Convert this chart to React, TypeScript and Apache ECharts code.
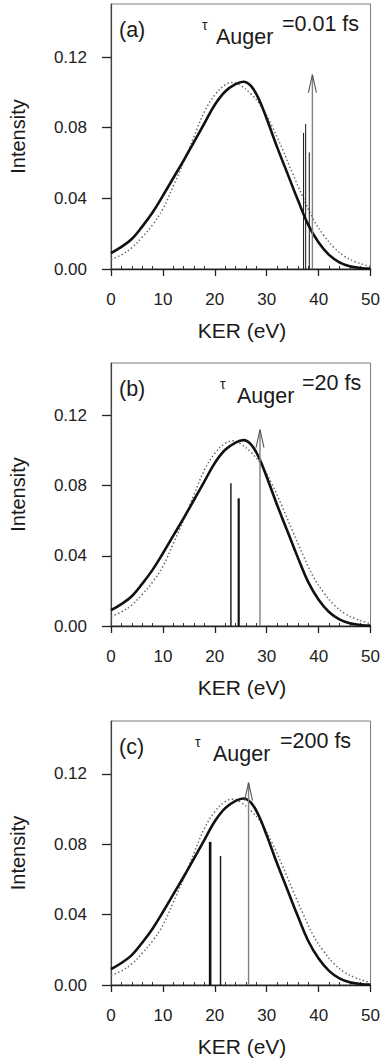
import React, { useEffect, useRef } from "react";
import * as echarts from "echarts";

// ---- data ----
const solidX = [0, 2, 4, 6, 8, 10, 12, 14, 16, 18, 20, 22, 24, 25.5, 27, 28.5, 30, 32, 34, 36, 38, 40, 42, 44, 46, 48, 50];
const solidY = [0.009, 0.0125, 0.017, 0.024, 0.032, 0.0415, 0.0515, 0.0615, 0.072, 0.0825, 0.093, 0.1005, 0.1046, 0.106, 0.1035, 0.096, 0.085, 0.069, 0.054, 0.039, 0.025, 0.015, 0.008, 0.0038, 0.0016, 0.0006, 0.0002];

const dottedX = [0, 2, 4, 6, 8, 10, 12, 14, 16, 18, 20, 22, 23.5, 25, 27, 29, 31, 33, 35, 37, 39, 41, 43, 45, 47, 49, 50];
const dottedY = [0.0055, 0.008, 0.012, 0.018, 0.025, 0.034, 0.047, 0.0605, 0.075, 0.089, 0.0985, 0.1042, 0.1056, 0.1038, 0.099, 0.0918, 0.081, 0.068, 0.054, 0.0405, 0.028, 0.019, 0.012, 0.0072, 0.0042, 0.0022, 0.0015];

const sticksA = [[37.1, 0.077], [37.5, 0.082], [38.2, 0.066]];
const sticksB = [[23.1, 0.0814], [24.6, 0.0728]];
const sticksC = [[19.1, 0.0813], [21.1, 0.0733]];

const arrowA = [[38.8, 0.11]];
const arrowB = [[28.7, 0.112]];
const arrowC = [[26.5, 0.115]];

const panelLabels = ["(a)", "(b)", "(c)"];
const tauValues = ["=0.01 fs", "=20 fs", "=200 fs"];

const xTickValues = [0, 10, 20, 30, 40, 50];
const xMinorTicks = [2, 4, 6, 8, 12, 14, 16, 18, 22, 24, 26, 28, 32, 34, 36, 38, 42, 44, 46, 48];
const yTickValues = [0, 0.04, 0.08, 0.12];

const xTitle = "KER (eV)";
const yTitle = "Intensity";

// ---- styles / layout ----
const FONT = '"Liberation Sans", Arial, Helvetica, sans-serif';
const gridTops = [4, 363, 721];
const gridHeights = [265, 263, 264];
const gridLeft = 111;
const gridWidth = 262;
const stickWidths = [[1, 1, 1], [1.4, 2.2], [2.6, 1.4]];
const tauLayout = [
  { tau: 202, auger: 216, eq: 282 },
  { tau: 220, auger: 237, eq: 302 },
  { tau: 195, auger: 213, eq: 280 },
];
const ANN = 21.5;

function zip(xs: number[], ys: number[]) {
  return xs.map((x, i) => [x, ys[i]]);
}

export default function App() {
  const ref = useRef<HTMLDivElement>(null);

  useEffect(() => {
    document.body.style.margin = "0";
    if (!ref.current) return;
    const chart = echarts.init(ref.current, undefined, { renderer: "svg" });

    const sticksAll = [sticksA, sticksB, sticksC];
    const arrowsAll = [arrowA, arrowB, arrowC];

    const grids: any[] = [];
    const xAxes: any[] = [];
    const yAxes: any[] = [];
    const series: any[] = [];
    const graphics: any[] = [];

    for (let i = 0; i < 3; i++) {
      grids.push({
        left: gridLeft,
        top: gridTops[i],
        width: gridWidth,
        height: gridHeights[i],
        show: true,
        borderColor: "#7a7a7a",
        borderWidth: 1,
        backgroundColor: "transparent",
      });
      xAxes.push({
        gridIndex: i,
        type: "value",
        position: "bottom",
        min: 0,
        max: 50,
        interval: 10,
        axisLine: { show: true, onZero: false, lineStyle: { color: "#222", width: 1.3 } },
        axisTick: { show: true, length: 7, customValues: xTickValues, lineStyle: { color: "#222", width: 1.3 } },
        axisLabel: { show: true, margin: 22, fontSize: 17, color: "#222", fontFamily: FONT, customValues: xTickValues },
        splitLine: { show: false },
      });
      xAxes.push({
        gridIndex: i,
        type: "value",
        position: "bottom",
        min: 0,
        max: 50,
        interval: 2,
        axisLine: { show: false, onZero: false },
        axisTick: { show: true, inside: true, length: 3, customValues: xMinorTicks, lineStyle: { color: "#333", width: 1 } },
        axisLabel: { show: false },
        splitLine: { show: false },
      });
      yAxes.push({
        gridIndex: i,
        type: "value",
        min: 0,
        max: 0.15,
        interval: 0.04,
        axisLine: { show: true, onZero: false, lineStyle: { color: "#444", width: 1.2 } },
        axisTick: { show: true, length: 9, customValues: yTickValues, lineStyle: { color: "#222", width: 1.3 } },
        axisLabel: {
          show: true,
          margin: 24,
          fontSize: 17,
          color: "#222",
          fontFamily: FONT,
          customValues: yTickValues,
          formatter: (v: number) => v.toFixed(2),
        },
        splitLine: { show: false },
      });

      series.push({
        type: "line",
        xAxisIndex: i * 2,
        yAxisIndex: i,
        data: zip(dottedX, dottedY),
        smooth: 0.4,
        symbol: "none",
        lineStyle: { color: "#666", width: 1.5, type: [1.4, 2.4] },
        z: 3,
      });
      series.push({
        type: "line",
        xAxisIndex: i * 2,
        yAxisIndex: i,
        data: zip(solidX, solidY),
        smooth: 0.4,
        symbol: "none",
        lineStyle: { color: "#111", width: 2.6 },
        z: 4,
      });
      const widths = stickWidths[i];
      series.push({
        type: "custom",
        xAxisIndex: i * 2,
        yAxisIndex: i,
        data: sticksAll[i],
        encode: { x: 0, y: 1 },
        silent: true,
        z: 5,
        renderItem: (params: any, api: any) => {
          const p0 = api.coord([api.value(0), 0]);
          const p1 = api.coord([api.value(0), api.value(1)]);
          return {
            type: "line",
            shape: { x1: p0[0], y1: p0[1], x2: p1[0], y2: p1[1] },
            style: { stroke: "#111", lineWidth: widths[params.dataIndex] },
          };
        },
      });
      series.push({
        type: "custom",
        xAxisIndex: i * 2,
        yAxisIndex: i,
        data: arrowsAll[i],
        encode: { x: 0, y: 1 },
        silent: true,
        z: 6,
        renderItem: (params: any, api: any) => {
          const p0 = api.coord([api.value(0), 0]);
          const p1 = api.coord([api.value(0), api.value(1)]);
          return {
            type: "group",
            children: [
              {
                type: "line",
                shape: { x1: p0[0], y1: p0[1], x2: p1[0], y2: p1[1] },
                style: { stroke: "#808080", lineWidth: 1.4 },
              },
              {
                type: "polyline",
                shape: { points: [[p1[0] - 4, p1[1] + 18], [p1[0], p1[1]], [p1[0] + 4, p1[1] + 18]] },
                style: { stroke: "#555", fill: null, lineWidth: 1.1 },
              },
            ],
          };
        },
      });

      const top = gridTops[i];
      const bottom = top + gridHeights[i];
      const lay = tauLayout[i];
      graphics.push(
        {
          type: "text",
          x: 119,
          y: top + 26,
          style: { text: panelLabels[i], font: `${ANN}px ${FONT}`, fill: "#1a1a1a", align: "left", verticalAlign: "middle" },
        },
        {
          type: "text",
          x: lay.tau,
          y: top + 21,
          style: { text: "τ", font: `14px ${FONT}`, fill: "#1a1a1a", align: "left", verticalAlign: "middle" },
        },
        {
          type: "text",
          x: lay.auger,
          y: top + 33,
          style: { text: "Auger", font: `${ANN}px ${FONT}`, fill: "#1a1a1a", align: "left", verticalAlign: "middle" },
        },
        {
          type: "text",
          x: lay.eq,
          y: top + 20,
          style: { text: tauValues[i], font: `${ANN}px ${FONT}`, fill: "#1a1a1a", align: "left", verticalAlign: "middle" },
        },
        {
          type: "text",
          x: 18,
          y: top + gridHeights[i] / 2,
          rotation: Math.PI / 2,
          style: { text: yTitle, font: `20px ${FONT}`, fill: "#1a1a1a", align: "center", verticalAlign: "middle" },
        },
        {
          type: "text",
          x: gridLeft + gridWidth / 2,
          y: bottom + 61,
          style: { text: xTitle, font: `21px ${FONT}`, fill: "#1a1a1a", align: "center", verticalAlign: "middle" },
        }
      );
    }

    chart.setOption({
      animation: false,
      backgroundColor: "#ffffff",
      grid: grids,
      xAxis: xAxes,
      yAxis: yAxes,
      series,
      graphic: graphics,
    });

    return () => chart.dispose();
  }, []);

  return <div ref={ref} style={{ width: 383, height: 1059 }} />;
}
